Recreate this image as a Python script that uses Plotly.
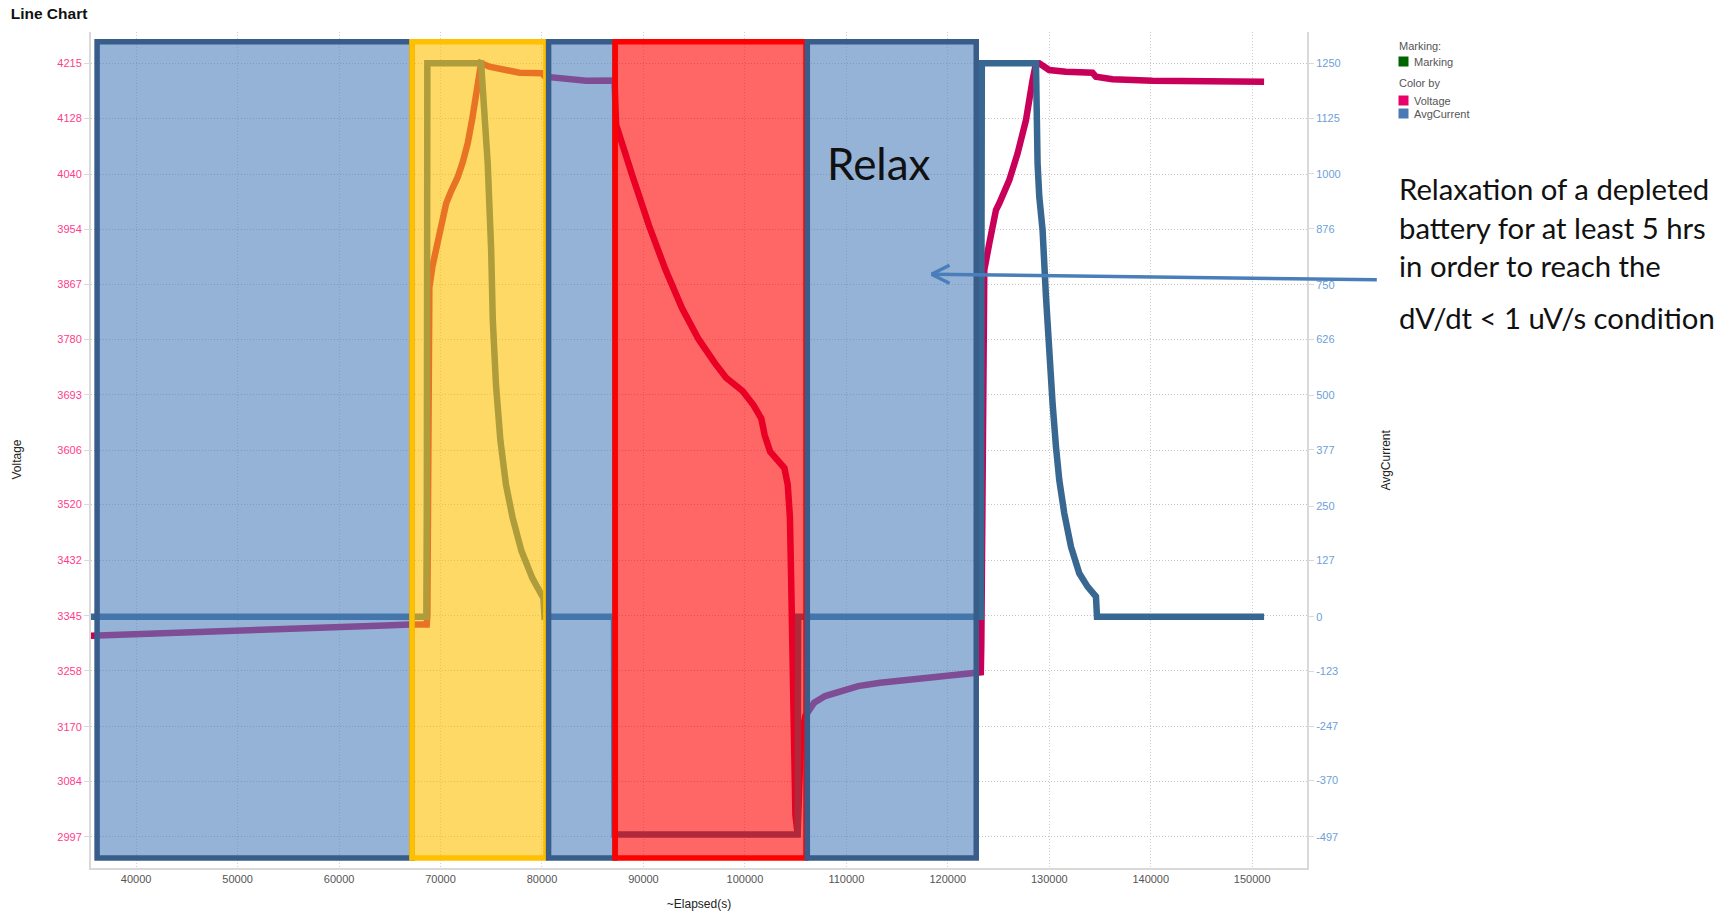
import plotly.graph_objects as go

# ---------------- data ----------------
elapsed_voltage = [
    35400, 42820, 48240, 53670, 59090, 64520, 67010, 68640,
    68700, 68720, 68760, 68800, 68900, 69200, 69570, 70000, 70550, 71000,
    71700, 72200, 72680, 73100, 73510, 73900, 74000,
    74820, 76130, 77780, 80010, 80300, 84350, 86970, 87150,
    87297, 87840, 88925, 90552, 92179, 93806, 95433, 97060, 98145, 99772,
    100857, 101617, 101942, 102484, 103352, 103894, 104220, 104437, 104545,
    104654, 104871, 104979, 105196,
    105305, 105522, 105956, 106824, 107908, 109535, 111163, 113332, 116587,
    119841, 122770, 123250,
    123300, 123350, 123400, 123427, 123594, 124087, 124747, 125072, 126057,
    126875, 127703, 128353, 128688,
    129003, 129988, 131633, 134254, 134589, 136225, 140166, 145427, 151171,
]
voltage_mv = [
    3313.5, 3317, 3321, 3324, 3326, 3329.5, 3331, 3331,
    3345, 3520, 3700, 3800, 3862, 3895, 3921, 3955, 3994, 4012,
    4036, 4060, 4089, 4125, 4162, 4210, 4215,
    4209.6, 4204.4, 4200.2, 4199.3, 4194, 4187.6, 4186, 4188,
    4118.7, 4089.2, 4037.2, 3959.1, 3889.7, 3829.0, 3780.5, 3742.3, 3719.8, 3699.0,
    3676.4, 3655.6, 3629.6, 3603.6, 3589.7, 3577.6, 3551.5, 3499.5, 3412.8,
    3274.0, 3135.3, 3031.2, 3001.7,
    3100.6, 3152.6, 3187.3, 3208.1, 3218.5, 3227.2, 3234.1, 3239.3, 3244.5,
    3249.7, 3254.9, 3256,
    3300, 3464, 3600, 3763.5, 3889.5, 3931.5, 3984, 3994.5, 4031,
    4073, 4125.7, 4188.7, 4215,
    4215, 4204.4, 4201.8, 4200.2, 4194, 4189.8, 4187.6, 4187.6, 4186,
]

elapsed_current = [
    35400, 68600, 68650, 68700, 74000, 74300, 74650, 74990, 75150, 75470,
    75900, 76450, 77100, 77970, 79050, 80140, 80250, 87100, 87150, 105200,
    105250, 123250, 123300, 123350, 128688, 128700, 128845, 129013, 129338,
    129673, 129831, 129998, 130323, 130658, 130984, 131476, 132136, 132954,
    133772, 134600, 134659, 134700, 151171,
]
current_ma = [
    0, 0, 250, 1250, 1250, 1137, 1024, 828, 671, 522,
    398, 298, 224, 149, 87, 42, 0, 0, -492, -492,
    0, 0, 250, 1250, 1250, 1174, 1024, 948.7, 873.5,
    722.8, 647.6, 602, 482, 384, 308.7, 233.5, 158.2, 98,
    67.8, 45.3, 11.5, 0, 0,
]

x_tick_text = ["40000", "50000", "60000", "70000", "80000", "90000",
               "100000", "110000", "120000", "130000", "140000", "150000"]
voltage_tick_text = ["2997", "3084", "3170", "3258", "3345", "3432", "3520", "3606",
                     "3693", "3780", "3867", "3954", "4040", "4128", "4215"]
current_tick_text = ["-497", "-370", "-247", "-123", "0", "127", "250", "377",
                     "500", "626", "750", "876", "1000", "1125", "1250"]

# test phases highlighted by the overlay boxes (elapsed seconds)
phase_kind = ["relax", "charge", "relax", "discharge", "relax"]
phase_start_s = [36150, 67180, 80650, 87200, 106150]
phase_end_s = [67180, 80380, 87200, 106020, 122800]

# ---------------- layout geometry helpers ----------------
W, H = 1727, 912
PL, PR, PT, PB = 91, 1307, 32, 868  # plot area in pixels


def px(x):
    return (x - PL) / (PR - PL)


def py(y):
    return (PB - y) / (PB - PT)


VOLT_COLOR = "#C9005A"
CURR_COLOR = "#386892"

fig = go.Figure()
fig.add_trace(go.Scatter(
    x=elapsed_voltage, y=voltage_mv, name="Voltage", mode="lines",
    line=dict(color=VOLT_COLOR, width=6.5), yaxis="y", showlegend=False,
))
fig.add_trace(go.Scatter(
    x=elapsed_current, y=current_ma, name="AvgCurrent", mode="lines",
    line=dict(color=CURR_COLOR, width=6.5), yaxis="y2", showlegend=False,
))

phase_style = {
    "relax": ("rgba(79,129,189,0.6)", "#385D8A"),
    "charge": ("rgba(255,192,0,0.6)", "#FFC000"),
    "discharge": ("rgba(255,0,0,0.6)", "#FF0000"),
}
shapes = []
for kind, s0, s1 in zip(phase_kind, phase_start_s, phase_end_s):
    fill, border = phase_style[kind]
    shapes.append(dict(type="rect", xref="x", yref="paper", x0=s0, x1=s1,
                       y0=py(858), y1=py(41.7), fillcolor=fill,
                       line=dict(color=border, width=5.5), layer="above"))

# arrow pointing at the relax phase
ARROW = "#4A7EBB"
shapes.append(dict(type="line", xref="paper", yref="paper", x0=px(1376.8), y0=py(279.8),
                   x1=px(931.5), y1=py(274.2), line=dict(color=ARROW, width=3.5), layer="above"))
shapes.append(dict(type="line", xref="paper", yref="paper", x0=px(931.5), y0=py(274.2),
                   x1=px(949.5), y1=py(265.2), line=dict(color=ARROW, width=3.5), layer="above"))
shapes.append(dict(type="line", xref="paper", yref="paper", x0=px(931.5), y0=py(274.2),
                   x1=px(949.5), y1=py(283.2), line=dict(color=ARROW, width=3.5), layer="above"))

# legend swatches
legend_items = [("Marking", "#006400", 61.5), ("Voltage", "#E8006B", 100.5),
                ("AvgCurrent", "#4A7AB5", 113.5)]
annotations = []
for label, col, yc in legend_items:
    shapes.append(dict(type="rect", xref="paper", yref="paper", x0=px(1398.5), x1=px(1408.5),
                       y0=py(yc + 5), y1=py(yc - 5), fillcolor=col, line=dict(width=0)))
    annotations.append(dict(xref="paper", yref="paper", x=px(1411.5), y=py(yc), text=label,
                            showarrow=False, xanchor="left", yanchor="middle",
                            font=dict(family="Liberation Sans", size=11, color="#555555")))
for label, yc in [("Marking:", 46), ("Color by", 82.7)]:
    annotations.append(dict(xref="paper", yref="paper", x=px(1396.5), y=py(yc), text=label,
                            showarrow=False, xanchor="left", yanchor="middle",
                            font=dict(family="Liberation Sans", size=11, color="#555555")))

# axis titles
annotations.append(dict(xref="paper", yref="paper", x=px(16.5), y=py(460), text="Voltage",
                        textangle=-90, showarrow=False, xanchor="center", yanchor="middle",
                        font=dict(family="Liberation Sans", size=12, color="#222222")))
annotations.append(dict(xref="paper", yref="paper", x=px(1385.6), y=py(460), text="AvgCurrent",
                        textangle=-90, showarrow=False, xanchor="center", yanchor="middle",
                        font=dict(family="Liberation Sans", size=12, color="#222222")))

# callout texts
annotations.append(dict(xref="paper", yref="paper", x=px(879), y=py(163), text="Relax",
                        showarrow=False, xanchor="center", yanchor="middle",
                        font=dict(family="Lato", size=44, color="#111111")))
callout_lines = [("Relaxation of a depleted", 188.3), ("battery for at least 5 hrs", 227.5),
                 ("in order to reach the", 265.4), ("dV/dt < 1 uV/s condition", 317.5)]
for txt, yc in callout_lines:
    annotations.append(dict(xref="paper", yref="paper", x=px(1396.5), y=py(yc), text=txt,
                            showarrow=False, xanchor="left", yanchor="middle",
                            font=dict(family="Lato", size=29.3, color="#111111")))

fig.update_layout(
    width=W, height=H,
    margin=dict(l=PL, r=W - PR, t=PT, b=H - PB, autoexpand=False),
    paper_bgcolor="white", plot_bgcolor="white",
    title=dict(text="<b>Line Chart</b>", x=10.7 / W, xref="container", xanchor="left",
               y=1 - 13.3 / H, yref="container", yanchor="middle",
               font=dict(family="Liberation Sans", size=15.5, color="#111111")),
    xaxis=dict(
        range=[35550, 155400],
        tickvals=[float(t) for t in x_tick_text], ticktext=x_tick_text,
        tickfont=dict(family="Liberation Sans", size=11, color="#555555"),
        showgrid=True, gridcolor="#cccccc", griddash="1px,2px", gridwidth=1,
        showline=True, linecolor="#d9d9d9", linewidth=2, zeroline=False,
        ticks="", title=dict(text="~Elapsed(s)", standoff=15,
                             font=dict(family="Liberation Sans", size=12, color="#222222")),
    ),
    yaxis=dict(
        range=[2947.7, 4264.3],
        tickvals=[float(t) for t in voltage_tick_text], ticktext=voltage_tick_text,
        tickfont=dict(family="Liberation Sans", size=11, color="#FF3D8B"),
        showgrid=True, gridcolor="#c4c4c4", griddash="1px,2px", gridwidth=1,
        showline=True, linecolor="#d9d9d9", linewidth=2, zeroline=False,
        ticks="outside", ticklen=5, tickcolor="#d9d9d9", tickwidth=1,
    ),
    yaxis2=dict(
        range=[-567.7, 1320.7], overlaying="y", side="right", anchor="x",
        tickvals=[float(t) for t in current_tick_text], ticktext=current_tick_text,
        tickfont=dict(family="Liberation Sans", size=11, color="#6E9FD8"),
        showgrid=False, showline=True, linecolor="#d9d9d9", linewidth=2, zeroline=False,
        ticks="outside", ticklen=5, tickcolor="#d9d9d9", tickwidth=1,
    ),
    shapes=shapes,
    annotations=annotations,
)

fig.write_html("out.html", config={"displayModeBar": False},
               post_script="document.body.style.margin='0';document.body.style.overflow='hidden';")
